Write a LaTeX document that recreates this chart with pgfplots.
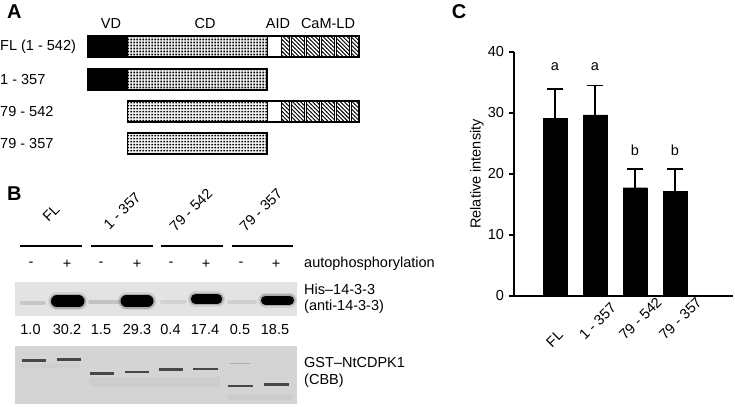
\documentclass[border=0pt]{standalone}
\usepackage{fontspec}
\setmainfont{Liberation Sans}
\usepackage{pgfplots}
\pgfplotsset{compat=1.18}
\usetikzlibrary{patterns}
\pgfdeclarepatternformonly{cddots}{\pgfqpoint{0pt}{0pt}}{\pgfqpoint{3.3pt}{3.3pt}}{\pgfqpoint{3.3pt}{3.3pt}}%
 {\pgfpathrectangle{\pgfqpoint{0.6pt}{0.6pt}}{\pgfqpoint{2.05pt}{2.05pt}}\pgfusepath{fill}}
\pgfdeclarepatternformonly{hatchnw}{\pgfqpoint{-1pt}{-1pt}}{\pgfqpoint{5pt}{5pt}}{\pgfqpoint{4pt}{4pt}}%
 {\pgfsetlinewidth{0.9pt}\pgfpathmoveto{\pgfqpoint{-0.2pt}{4.2pt}}\pgfpathlineto{\pgfqpoint{4.2pt}{-0.2pt}}\pgfusepath{stroke}}
\newcommand{\fsz}{\fontsize{14.5bp}{16bp}\selectfont}
\newcommand{\pfs}{\fontsize{20bp}{22bp}\selectfont\bfseries}
% rectangle segment: x1 x2 y1 y2 style
\newcommand{\seg}[5]{\addplot[#5] coordinates {(#1,#3) (#2,#3) (#2,#4) (#1,#4)} -- cycle;}
\newcommand{\cam}[2]{%
 \seg{267}{281.5}{#1}{#2}{fill=white, draw=black, line width=1bp}
 \seg{281.5}{289}{#1}{#2}{pattern=hatchnw, draw=black, line width=1bp}
 \seg{291.5}{304}{#1}{#2}{pattern=hatchnw, draw=black, line width=1bp}
 \seg{306.5}{319}{#1}{#2}{pattern=hatchnw, draw=black, line width=1bp}
 \seg{321.5}{334}{#1}{#2}{pattern=hatchnw, draw=black, line width=1bp}
 \seg{336.5}{349}{#1}{#2}{pattern=hatchnw, draw=black, line width=1bp}
 \seg{351.5}{359}{#1}{#2}{pattern=hatchnw, draw=black, line width=1bp}
}
% blot band: x1 x2 y width
\newcommand{\band}[4]{%
 \addplot[black, opacity=0.08, line width=#4bp+6bp, line cap=round] coordinates {(#1,#3) (#2,#3)};
 \addplot[black, opacity=0.18, line width=#4bp+3bp, line cap=round] coordinates {(#1,#3) (#2,#3)};
 \addplot[black, line width=#4bp, line cap=round] coordinates {(#1,#3) (#2,#3)};
}
\begin{document}
\fsz
\begin{tikzpicture}[font=\fsz]
\begin{axis}[name=base, at={(0,0)}, anchor=south west, scale only axis,
  width=735bp, height=407bp, xmin=0, xmax=735, ymin=0, ymax=407,
  y dir=reverse, hide axis, clip=false]
\addplot[draw=none] coordinates {(0,0) (735,407)};
% ---------- Panel A ----------
\node[font=\pfs, anchor=west] at (axis cs:2,12) {A};
\node at (axis cs:111,24) {VD};
\node at (axis cs:205,24) {CD};
\node at (axis cs:278,24) {AID};
\node at (axis cs:328,24) {CaM-LD};
\node[anchor=west, inner sep=0pt] at (axis cs:0,46.5) {FL (1 - 542)};
\node[anchor=west, inner sep=0pt] at (axis cs:0,79.5) {1 - 357};
\node[anchor=west, inner sep=0pt] at (axis cs:0,111.5) {79 - 542};
\node[anchor=west, inner sep=0pt] at (axis cs:0,143.5) {79 - 357};
% row 1
\seg{88}{127.5}{36}{57}{fill=black, draw=black, line width=1bp}
\seg{127.5}{267}{36}{57}{pattern=cddots, draw=black, line width=1bp}
\cam{36}{57}
\seg{88}{359}{36}{57}{draw=black, line width=1.2bp}
% row 2
\seg{88}{127.5}{69}{90}{fill=black, draw=black, line width=1bp}
\seg{127.5}{267}{69}{90}{pattern=cddots, draw=black, line width=1bp}
\seg{88}{267}{69}{90}{draw=black, line width=1.2bp}
% row 3
\seg{127.5}{267}{101}{122}{pattern=cddots, draw=black, line width=1bp}
\cam{101}{122}
\seg{127.5}{359}{101}{122}{draw=black, line width=1.2bp}
% row 4
\seg{127.5}{267}{133}{154}{pattern=cddots, draw=black, line width=1bp}
\seg{127.5}{267}{133}{154}{draw=black, line width=1.2bp}
% ---------- Panel B ----------
\node[font=\pfs, anchor=west] at (axis cs:2,194) {B};
\node[rotate=45] at (axis cs:51,213) {FL};
\node[rotate=45] at (axis cs:122,211) {1 - 357};
\node[rotate=45] at (axis cs:191,210) {79 - 542};
\node[rotate=45] at (axis cs:261,210) {79 - 357};
\addplot[black, line width=2bp] coordinates {(20,246) (82,246)};
\addplot[black, line width=2bp] coordinates {(91,246) (153,246)};
\addplot[black, line width=2bp] coordinates {(161,246) (223,246)};
\addplot[black, line width=2bp] coordinates {(232,246) (293,246)};
\node at (axis cs:31,264) {-};
\node at (axis cs:67,264) {+};
\node at (axis cs:101,264) {-};
\node at (axis cs:137,264) {+};
\node at (axis cs:171,264) {-};
\node at (axis cs:206,264) {+};
\node at (axis cs:241,264) {-};
\node at (axis cs:276,264) {+};
\node[anchor=west, inner sep=0pt] at (axis cs:304,264) {autophosphorylation};
% blot
\seg{15}{297}{282}{316}{fill=black!11, draw=none}
\addplot[black, opacity=0.12, line width=4bp, line cap=round] coordinates {(22,303) (44,303)};
\addplot[black, opacity=0.14, line width=4bp, line cap=round] coordinates {(90,301.5) (118,301.5)};
\addplot[black, opacity=0.07, line width=4bp, line cap=round] coordinates {(162,301.5) (185,301.5)};
\addplot[black, opacity=0.09, line width=4bp, line cap=round] coordinates {(229,301.5) (255,301.5)};
\band{57}{78.5}{301.3}{12}
\band{126.5}{147.5}{301}{12}
\band{195.5}{217.5}{299}{9.5}
\band{265.5}{289.5}{300}{9}
\node[anchor=west, inner sep=0pt] at (axis cs:304,289) {His--14-3-3};
\node[anchor=west, inner sep=0pt] at (axis cs:304,307) {(anti-14-3-3)};
% numbers
\node at (axis cs:30.5,330) {1.0};
\node at (axis cs:67,330) {30.2};
\node at (axis cs:101,330) {1.5};
\node at (axis cs:137,330) {29.3};
\node at (axis cs:170.5,330) {0.4};
\node at (axis cs:205,330) {17.4};
\node at (axis cs:240,330) {0.5};
\node at (axis cs:275,330) {18.5};
% CBB gel
\seg{15}{297}{346}{404}{fill=black!17, draw=none}
\addplot[black, opacity=0.03, line width=10bp] coordinates {(90,382) (220,382)};
\addplot[black, opacity=0.03, line width=6bp] coordinates {(228,397) (292,397)};
\addplot[black, opacity=0.025, line width=4bp] coordinates {(20,366) (80,366)};
\addplot[black!72, line width=2.6bp] coordinates {(21.7,360.7) (45.7,360.7)};
\addplot[black!72, line width=2.6bp] coordinates {(56.7,359.3) (80.7,359.3)};
\addplot[black!72, line width=2.6bp] coordinates {(90,373.3) (114,373.3)};
\addplot[black!72, line width=2.6bp] coordinates {(125,372) (149,372)};
\addplot[black!72, line width=2.6bp] coordinates {(159,369.3) (183,369.3)};
\addplot[black!72, line width=2.6bp] coordinates {(193,369) (218,369)};
\addplot[black!32, line width=1.3bp] coordinates {(230,363.3) (250,363.3)};
\addplot[black!72, line width=2.6bp] coordinates {(228,386) (253,386)};
\addplot[black!72, line width=2.6bp] coordinates {(264,384.5) (289,384.5)};
\node[anchor=west, inner sep=0pt] at (axis cs:304,363) {GST--NtCDPK1};
\node[anchor=west, inner sep=0pt] at (axis cs:304,381) {(CBB)};
% ---------- Panel C label ----------
\node[font=\pfs] at (axis cs:459,12) {C};
\end{axis}

\begin{axis}[at={(514bp,111bp)}, anchor=south west, scale only axis,
  width=219bp, height=244bp, xmin=-0.025, xmax=5.45, ymin=0, ymax=40,
  axis x line*=bottom, axis y line*=left,
  ytick={0,10,20,30,40}, xtick={1,2,3,4},
  xticklabels={\raisebox{-10bp}{FL},1 - 357,79 - 542,79 - 357},
  tick align=outside, major tick length=5bp,
  x tick style={draw=none},
  axis line style={line width=1.3bp, black},
  y tick style={line width=1.3bp, black},
  tick label style={font=\fsz},
  /pgf/number format/assume math mode=true,
  xticklabel style={xshift=-13.5bp, yshift=-43.5bp, rotate=45, anchor=base west},
  ylabel={Relative intensity},
  ylabel style={at={(axis description cs:-0.169,0.5)}, anchor=center, font=\fsz},
  clip=false]
\addplot[ybar, bar width=24bp, fill=black, draw=black,
  error bars/.cd, y dir=plus, y explicit, error mark=none,
  error bar style={line width=1.5bp, black}]
  coordinates {(1,29.1) +- (0,4.8) (2,29.7) +- (0,4.8) (3,17.75) +- (0,3.05) (4,17.2) +- (0,3.6)};
% error bar caps (top of each error bar)
\addplot[only marks, mark=-, mark size=8bp, mark options={line width=1.5bp, black}]
  coordinates {(1,33.9) (2,34.5) (3,20.8) (4,20.8)};
\node at (axis cs:1,37.6) {a};
\node at (axis cs:2,37.6) {a};
\node at (axis cs:3,23.9) {b};
\node at (axis cs:4,23.9) {b};
\end{axis}
\end{tikzpicture}
\end{document}
